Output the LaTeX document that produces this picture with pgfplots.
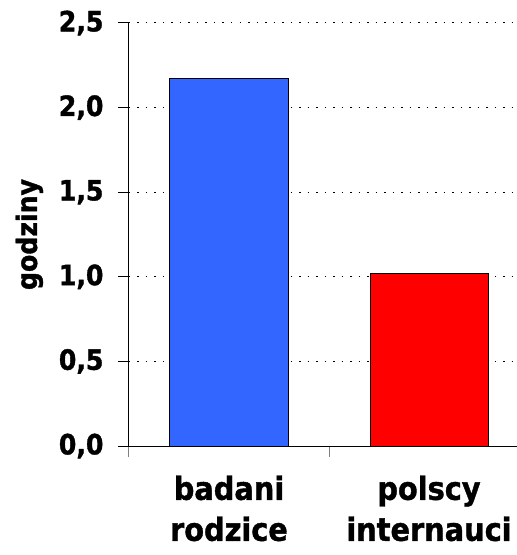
\documentclass[border=0pt]{standalone}
\usepackage{fontspec}
\setmainfont{DejaVu Sans Condensed}[BoldFeatures={FakeBold=1.2}]
\usepackage{pgfplots}
\pgfplotsset{compat=1.18}
\definecolor{barblue}{RGB}{51,102,255}
\definecolor{barred}{RGB}{255,0,0}
\begin{document}
\begin{tikzpicture}
\begin{axis}[
    x=200bp, y=169.2bp,
    xmin=-0.5, xmax=1.44,
    ymin=0, ymax=2.5,
    axis x line*=bottom,
    axis y line*=left,
    axis line style={line width=1bp},
    ybar, bar width=118bp, bar shift=0pt,
    xtick={0,1},
    xticklabels={badani\\rodzice, polscy\\internauci},
    major x tick style={draw=none},
    minor xtick={-0.5,0.5},
    minor x tick style={line width=1bp},
    minor tick length=11bp,
    ytick={0,0.5,...,2.5},
    major tick length=11bp,
    tick align=outside,
    y tick style={line width=1bp, black},
    ymajorgrids,
    major grid style={black, line width=1bp, dash pattern=on 1.5bp off 7bp},
    /pgf/number format/.cd, fixed, fixed zerofill, precision=1, use comma, assume math mode=true,
    /pgfplots/.cd,
    yticklabel style={font=\fontsize{28bp}{30bp}\selectfont\bfseries, xshift=-11bp},
    xticklabel style={font=\fontsize{32bp}{41bp}\selectfont\bfseries, align=center, yshift=-15bp},
    ylabel={godziny},
    ylabel style={font=\fontsize{28bp}{30bp}\selectfont\bfseries, yshift=9bp},
]
\addplot[fill=barblue, draw=black, line width=1bp] coordinates {(0,2.17)};
\addplot[fill=barred, draw=black, line width=1bp] coordinates {(1,1.02)};
\end{axis}
\pgfresetboundingbox
\path (-129bp,-109bp) rectangle (388bp,446bp);
\end{tikzpicture}
\end{document}
